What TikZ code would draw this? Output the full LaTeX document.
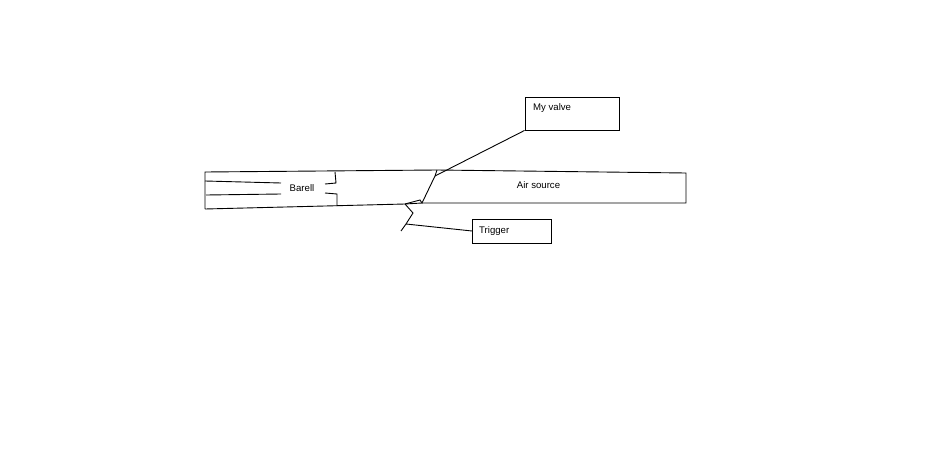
\documentclass[tikz,border=0pt]{standalone}
\usepackage{fontspec}
\setmainfont{Liberation Sans}
\tikzset{
  outline/.style={draw=black,line width=0.9pt},
  callout/.style={draw=black,line width=0.9pt,fill=white,inner sep=0pt},
  caption/.style={font=\fontsize{9.6}{11}\selectfont,inner sep=0pt}
}
\begin{document}
\begin{tikzpicture}[x=1pt,y=-1pt]
  \useasboundingbox (0,0) rectangle (939,463);
  % points of the gun body
  \foreach \name/\x/\y in {
    topleft/205/172,
    botleft/205/209,
    topmid/437/170,
    topright/686/173,
    botright/686/203,
    valvetop/435/176,
    valvebot/422/203,
    botmid/405/204,
    wedge/420/200,
    zigA/413/213,
    zigB/406/224,
    zigC/401/231,
    upA/205/181,
    upB/281/183,
    lowA/206/195,
    lowB/281/194,
    stubA/335/172,
    stubB/336/183,
    stubC/325/184,
    stubD/325/193,
    stubE/337/194,
    stubF/337/206} {
      \coordinate (\name) at (\x,\y);
    }
  % boxes
  \node[callout,minimum width=94pt,minimum height=33pt] (valvebox) at (572,113.5) {};
  \node[callout,minimum width=79pt,minimum height=24pt] (triggerbox) at (512,231) {};
  % body
  \draw[outline] (botleft) -- (topleft) -- (topmid) -- (topright) -- (botright) -- (valvebot) -- (botmid) -- (botleft);
  \draw[outline] (upA) -- (upB);
  \draw[outline] (lowA) -- (lowB);
  \draw[outline] (stubA) -- (stubB) -- (stubC);
  \draw[outline] (stubD) -- (stubE) -- (stubF);
  % valve and trigger
  \draw[outline] (topmid) -- (valvetop) -- (valvebot) -- (wedge) -- (botmid);
  \draw[outline] (botmid) -- (zigA) -- (zigB) -- (zigC);
  \draw[outline] (valvebox.south west) -- (valvetop);
  \draw[outline] (zigB) -- (triggerbox.west);
  % labels
  \node[caption] (barell) at (302,188.5) {Barell};
  \node[caption] (airsource) at (538.5,185) {Air source};
  \node[caption,anchor=west] (myvalve) at (533,108.5) {My valve};
  \node[caption,anchor=west] (trigger) at (479,231) {Trigger};
\end{tikzpicture}
\end{document}
